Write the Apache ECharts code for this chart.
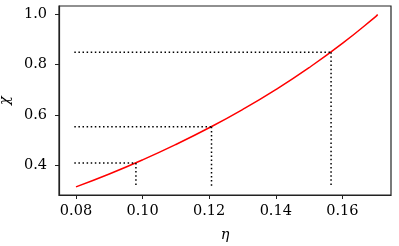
<!DOCTYPE html>
<html lang="en">
<head>
    <meta charset="UTF-8">
    <script src="https://cdn.jsdelivr.net/npm/echarts@6/dist/echarts.min.js"></script>
    <title>chi vs eta</title>
</head>
<body style="margin:0">
    <div id="chart" style="width: 399px;height:246px;"></div>
</body>
<script type="text/javascript">
    // curve
    var etaValues = [0.08, 0.09, 0.10, 0.11, 0.12, 0.13, 0.14, 0.15, 0.16, 0.17, 0.1706];
    var chiValues = [0.316, 0.367, 0.423, 0.484, 0.550, 0.622, 0.701, 0.788, 0.884, 0.990, 0.998];
    // marked points (dotted guides)
    var markEta = [0.098, 0.1207, 0.1566];
    var markChi = [0.411, 0.554, 0.849];
    // ticks
    var xTicks = [0.08, 0.10, 0.12, 0.14, 0.16];
    var yTicks = [0.4, 0.6, 0.8, 1.0];

    var font = 'DejaVu Serif';
    var chart = echarts.init(document.getElementById('chart'));

    var curve = etaValues.map(function (x, i) { return [x, chiValues[i]]; });
    var guides = [];
    markEta.forEach(function (x, i) {
        guides.push({
            name: 'h' + i, type: 'line', symbol: 'none', silent: true,
            data: [[0.0795, markChi[i]], [x, markChi[i]]],
            lineStyle: {color: '#000', width: 1.5, type: [1.5, 2.6]}
        });
        guides.push({
            name: 'v' + i, type: 'line', symbol: 'none', silent: true,
            data: [[x, markChi[i]], [x, chiValues[0]]],
            lineStyle: {color: '#000', width: 1.5, type: [1.5, 2.6]}
        });
    });

    chart.setOption({
        animation: false,
        grid: {
            left: 59, top: 6, right: 8, bottom: 51, outerBoundsMode: 'none',
            show: true, borderColor: '#222', borderWidth: 1.2
        },
        xAxis: {
            type: 'value', min: 0.0749, max: 0.1746,
            name: 'η', nameLocation: 'middle', nameGap: 33,
            nameTextStyle: {fontFamily: font, fontStyle: 'italic', fontSize: 14.5, color: '#000'},
            splitLine: {show: false},
            axisLine: {lineStyle: {color: '#222', width: 1.2}},
            axisTick: {length: 4, lineStyle: {color: '#222'}, customValues: xTicks},
            axisLabel: {
                customValues: xTicks, margin: 9,
                fontFamily: font, fontSize: 14.5, color: '#000',
                formatter: function (v) { return v.toFixed(2); }
            }
        },
        yAxis: {
            type: 'value', min: 0.284, max: 1.032,
            name: 'χ', nameLocation: 'middle', nameGap: 45, nameRotate: 90,
            nameTextStyle: {fontFamily: font, fontStyle: 'italic', fontSize: 14.5, color: '#000'},
            splitLine: {show: false},
            axisLine: {show: true, lineStyle: {color: '#222', width: 1.2}},
            axisTick: {show: true, length: 4, lineStyle: {color: '#222'}, customValues: yTicks},
            axisLabel: {
                customValues: yTicks, margin: 12,
                fontFamily: font, fontSize: 14.5, color: '#000',
                formatter: function (v) { return v.toFixed(1); }
            }
        },
        series: [{
            name: 'curve', type: 'line', smooth: true, symbol: 'none',
            data: curve,
            lineStyle: {color: '#ff0000', width: 1.5}
        }].concat(guides)
    });
</script>
</html>
